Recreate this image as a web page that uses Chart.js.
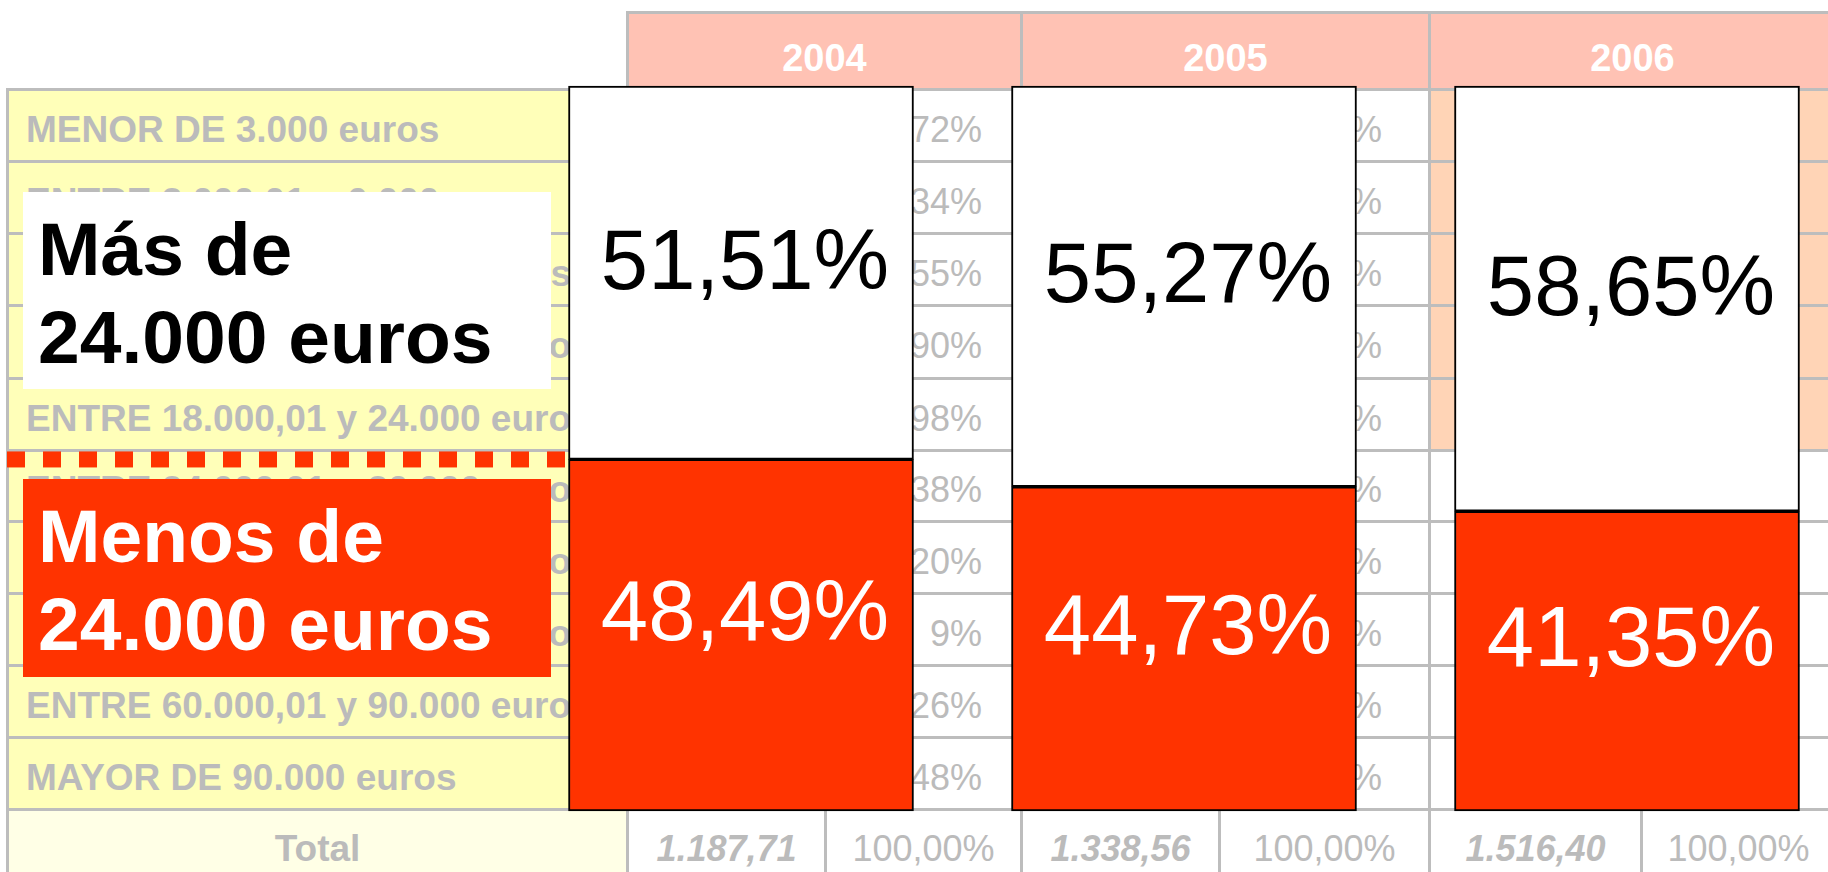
<!DOCTYPE html>
<html>
<head>
<meta charset="utf-8">
<script src="https://cdn.jsdelivr.net/npm/chart.js@4.4.1/dist/chart.umd.min.js"></script>
<style>
  html, body { margin: 0; padding: 0; background: #fff; width: 1828px; height: 872px; overflow: hidden; }
  body { position: relative; font-family: "Liberation Sans", Arial, sans-serif; }
  #tabla { position: absolute; left: 0; top: 0; width: 1828px; height: 872px; overflow: hidden; z-index: 0; }
  .celda { position: absolute; box-sizing: border-box; border: 3px solid #bdbdbd; display: flex; align-items: center;
           color: #bbb; font-size: 36px; white-space: nowrap; overflow: hidden; }
  .cab { background: #ffc2b4; color: #fff; font-weight: bold; font-size: 38px; justify-content: center; padding-top: 14px; }
  .tramo { background: #ffffb9; font-weight: bold; font-size: 37px; padding-left: 17px; padding-top: 8px; }
  .pct { justify-content: flex-end; padding-top: 8px; }
  .total { justify-content: center; padding-top: 6px; }
  .caja { position: absolute; left: 23px; width: 528px; box-sizing: border-box; padding: 13px 0 0 15px;
          font-weight: bold; font-size: 75px; line-height: 88px; z-index: 1; }
  #mas { top: 192px; height: 197px; background: #fff; color: #000; }
  #menos { top: 479px; height: 198px; background: #ff3300; color: #fff; }
  #grafico { position: absolute; left: 0; top: 0; z-index: 2; }
</style>
</head>
<body>
<div id="tabla"></div>
<div class="caja" id="mas">Más de<br>24.000 euros</div>
<div class="caja" id="menos">Menos de<br>24.000 euros</div>
<canvas id="grafico" width="1828" height="872"></canvas>
<script>
// datos del gráfico
const years = ['2004', '2005', '2006'];
const menos24000 = [48.49, 44.73, 41.35];
const mas24000 = [51.51, 55.27, 58.65];

// tabla de fondo (solo lo que se ve detrás de las barras)
const tramos = [
  'MENOR DE 3.000 euros',
  'ENTRE 3.000,01 y 6.000 euros',
  'ENTRE 6.000,01 y 12.000 euros',
  'ENTRE 12.000,01 y 18.000 euros',
  'ENTRE 18.000,01 y 24.000 euros',
  'ENTRE 24.000,01 y 30.000 euros',
  'ENTRE 30.000,01 y 45.000 euros',
  'ENTRE 45.000,01 y 60.000 euros',
  'ENTRE 60.000,01 y 90.000 euros',
  'MAYOR DE 90.000 euros'
];
const pct2004 = ['72%', '34%', '55%', '90%', '98%', '38%', '20%', '9%', '26%', '48%'];
const pct2005 = ['%', '%', '%', '%', '%', '%', '%', '%', '%', '%'];
const totales = ['1.187,71', '1.338,56', '1.516,40'];
const totalPct = ['100,00%', '100,00%', '100,00%'];

// bordes de columnas y filas de la tabla
const colX = [7, 627, 825, 1021, 1219, 1429, 1641, 1835];
const rowY = [12, 89, 161, 233, 305, 378, 450, 521, 593, 665, 737, 809, 881];

const tabla = document.getElementById('tabla');
function celda(c0, c1, r0, r1, cls, text, extra) {
  const d = document.createElement('div');
  d.className = 'celda ' + cls;
  d.style.left = (colX[c0] - 1) + 'px';
  d.style.top = (rowY[r0] - 1) + 'px';
  d.style.width = (colX[c1] - colX[c0] + 3) + 'px';
  d.style.height = (rowY[r1] - rowY[r0] + 3) + 'px';
  if (extra) Object.assign(d.style, extra);
  d.textContent = text || '';
  tabla.appendChild(d);
}

years.forEach((y, i) => celda(1 + 2 * i, 3 + 2 * i, 0, 1, 'cab', y));
tramos.forEach((t, r) => {
  celda(0, 1, r + 1, r + 2, 'tramo', t);
  celda(1, 2, r + 1, r + 2, '', '');
  celda(2, 3, r + 1, r + 2, 'pct', pct2004[r], { paddingRight: '38px' });
  celda(3, 4, r + 1, r + 2, '', '');
  celda(4, 5, r + 1, r + 2, 'pct', pct2005[r], { paddingRight: '46px' });
  const bg = r < 5 ? '#ffd4b6' : '#fff';
  celda(5, 6, r + 1, r + 2, '', '', { background: bg });
  celda(6, 7, r + 1, r + 2, '', '', { background: bg });
});
celda(0, 1, 11, 12, 'total', 'Total', { background: '#ffffe6', fontWeight: 'bold', fontSize: '37px' });
totales.forEach((t, i) => {
  celda(1 + 2 * i, 2 + 2 * i, 11, 12, 'total', t, { fontWeight: 'bold', fontStyle: 'italic' });
  celda(2 + 2 * i, 3 + 2 * i, 11, 12, 'total', totalPct[i]);
});

// línea discontinua a la altura del corte de 2004 y etiquetas de las barras
const extras = {
  id: 'extras',
  beforeDatasetsDraw(chart) {
    const ctx = chart.ctx;
    const bar = chart.getDatasetMeta(0).data[0];
    const y = chart.scales.y.getPixelForValue(menos24000[0]);
    ctx.save();
    ctx.strokeStyle = '#ff3300';
    ctx.lineWidth = 16;
    ctx.setLineDash([18, 18]);
    ctx.beginPath();
    ctx.moveTo(7, y);
    ctx.lineTo(bar.x - bar.width / 2, y);
    ctx.stroke();
    ctx.restore();
  },
  afterDatasetsDraw(chart) {
    const ctx = chart.ctx;
    ctx.save();
    ctx.font = '85px "Liberation Sans", Arial, sans-serif';
    ctx.textAlign = 'center';
    ctx.textBaseline = 'alphabetic';
    chart.data.datasets.forEach((ds, di) => {
      chart.getDatasetMeta(di).data.forEach((el, i) => {
        const mid = (el.y + el.base) / 2 + (di === 0 ? -25 : -14);
        ctx.fillStyle = di === 0 ? '#fff' : '#000';
        ctx.fillText(ds.data[i].toFixed(2).replace('.', ',') + '%', el.x + 4, mid + 30);
      });
    });
    ctx.restore();
  }
};

const ctx = document.getElementById('grafico').getContext('2d');
const myChart = new Chart(ctx, {
  type: 'bar',
  data: {
    labels: years,
    datasets: [{
      label: 'Menos de 24.000 euros',
      data: menos24000,
      backgroundColor: '#ff3300',
      borderColor: '#000',
      borderWidth: 2,
      borderSkipped: false,
      barThickness: 345,
      clip: false
    }, {
      label: 'Más de 24.000 euros',
      data: mas24000,
      backgroundColor: '#fff',
      borderColor: '#000',
      borderWidth: 2,
      borderSkipped: false,
      barThickness: 345,
      clip: false
    }]
  },
  options: {
    responsive: false,
    animation: false,
    layout: { padding: { left: 741, right: 201, top: 86, bottom: 61 } },
    plugins: {
      legend: { display: false },
      tooltip: { enabled: false }
    },
    scales: {
      x: { display: false, stacked: true, offset: false },
      y: { display: false, stacked: true, min: 0, max: 100 }
    }
  },
  plugins: [extras]
});
</script>
</body>
</html>
